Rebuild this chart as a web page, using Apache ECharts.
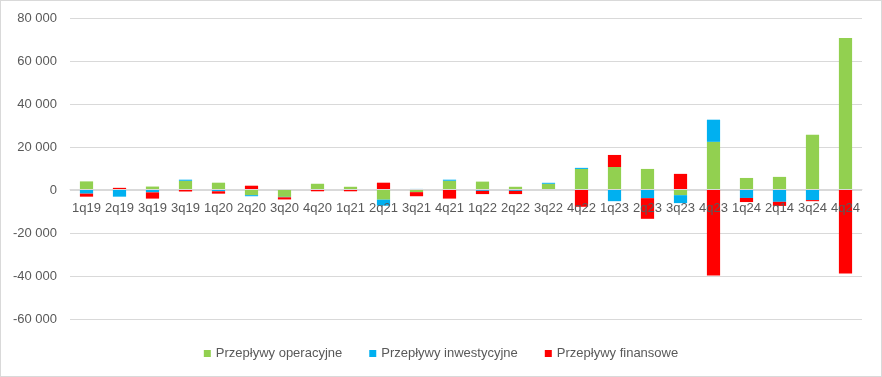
<!DOCTYPE html>
<html>
<head>
<meta charset="utf-8">
<script src="https://cdn.jsdelivr.net/npm/echarts@6/dist/echarts.min.js"></script>
<style>
html,body{margin:0;padding:0;background:#fff;}
#chart{width:882px;height:377px;box-sizing:border-box;border:1px solid #d9d9d9;}
</style>
</head>
<body>
<div id="chart"></div>
<script>
var categories = ['1q19','2q19','3q19','3q19','1q20','2q20','3q20','4q20','1q21','2q21','3q21','4q21','1q22','2q22','3q22','4q22','1q23','2q23','3q23','4q23','1q24','2q14','3q24','4q24'];
var operacyjne = [4000, 0, 1600, 4300, 3400, -2400, -3200, 2900, 1500, -4500, -1000, 4300, 3900, 1500, 2900, 9800, 10700, 9800, -2400, 22400, 5600, 6100, 25700, 70700];
var inwestycyjne = [-1700, -3100, -1100, 500, -600, -500, -200, 0, 0, -2800, 500, 500, -400, -400, 450, 500, -5200, -3800, -3700, 10300, -3700, -5500, -4700, 0];
var finansowe = [-1400, 1000, -2900, -700, -1100, 2000, -1000, -600, -600, 3400, -1900, -4000, -1500, -1500, 0, -7800, 5600, -9600, 7500, -39800, -1900, -1900, -500, -38800];
var seriesNames = ['Przepływy operacyjne', 'Przepływy inwestycyjne', 'Przepływy finansowe'];
var yTicks = {min: -60000, max: 80000, interval: 20000};

var chart = echarts.init(document.getElementById('chart'));
var font = 'Liberation Sans, Arial, sans-serif';
var gridTop = 17, gridBottom = 57, H = 377;
var plotH = H - gridTop - gridBottom;
var zeroOffset = -plotH * (0 - yTicks.min) / (yTicks.max - yTicks.min);
function fmt(v){
  var s = Math.abs(v).toString().replace(/\B(?=(\d{3})+(?!\d))/g, ' ');
  return (v < 0 ? '-' : '') + s;
}
function mk(name, data, color){
  return {name: name, type: 'bar', stack: 'total', data: data, barWidth: '40%',
    itemStyle: {color: color}, emphasis: {disabled: true}};
}
chart.setOption({
  animation: false,
  textStyle: {fontFamily: font},
  grid: {left: 69, right: 19, top: gridTop, bottom: gridBottom},
  legend: {
    bottom: 11, left: 'center', itemWidth: 7, itemHeight: 7, itemGap: 27,
    icon: 'rect',
    textStyle: {color: '#595959', fontSize: 13, fontFamily: font},
    data: seriesNames
  },
  xAxis: {
    type: 'category', data: categories, z: 5, position: 'bottom', offset: zeroOffset,
    axisLine: {onZero: false, lineStyle: {color: '#d9d9d9', width: 1}},
    axisTick: {show: false},
    axisLabel: {color: '#595959', fontSize: 13, margin: 13, interval: 0, fontFamily: font}
  },
  yAxis: {
    type: 'value', min: yTicks.min, max: yTicks.max, interval: yTicks.interval,
    axisLine: {show: false}, axisTick: {show: false},
    splitLine: {lineStyle: {color: '#d9d9d9', width: 1}},
    axisLabel: {color: '#595959', fontSize: 13, margin: 13, formatter: fmt, fontFamily: font}
  },
  series: [
    mk(seriesNames[0], operacyjne, '#92d050'),
    mk(seriesNames[1], inwestycyjne, '#00b0f0'),
    mk(seriesNames[2], finansowe, '#ff0000')
  ]
});
</script>
</body>
</html>
